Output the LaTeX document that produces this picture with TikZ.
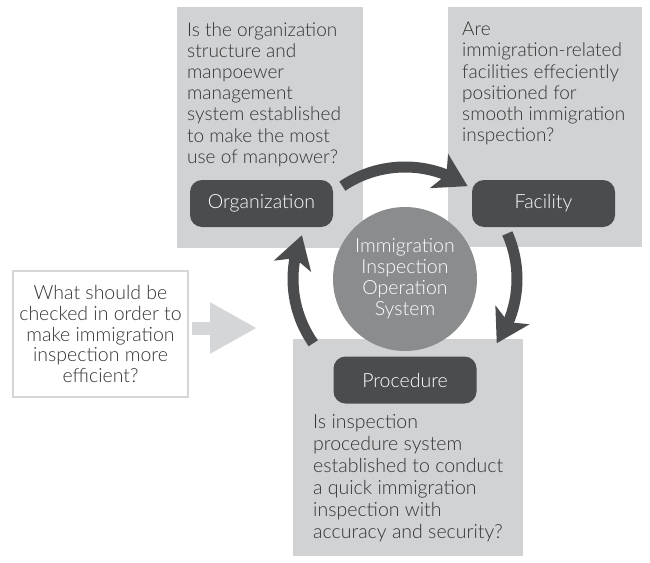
\documentclass[tikz,border=0pt]{standalone}
\usepackage{fontspec}
\setmainfont{Lato}[UprightFont=* Light]
\usetikzlibrary{arrows.meta,bending,positioning}
\definecolor{panelgray}{HTML}{D1D2D4}
\definecolor{darkbox}{HTML}{4B4C4E}
\definecolor{hubgray}{HTML}{8B8C8E}
\definecolor{textgray}{HTML}{333333}
\definecolor{hintgray}{HTML}{D5D6D8}
\tikzset{
  panel/.style={fill=panelgray,inner sep=0pt,anchor=north west},
  topic/.style={fill=darkbox,rounded corners=12pt,text=white,minimum width=143pt,
    minimum height=47pt,font=\fontsize{19.5}{22}\selectfont},
  question/.style={text=textgray,align=left,anchor=north west,inner sep=0pt,
    font=\fontsize{19}{21.2}\selectfont},
  hub/.style={circle,fill=hubgray,text=white,minimum size=144pt,inner sep=0pt,
    align=center,font=\fontsize{19.5}{21}\selectfont},
  cycle/.style={draw=darkbox,line width=11pt,-{Stealth[length=32pt,width=38pt,inset=8pt]}},
  hintarrow/.style={draw=hintgray,line width=13pt,-{Triangle[length=47pt,width=48pt]}}
}
\begin{document}
\begin{tikzpicture}[x=1pt,y=-1pt]
  \useasboundingbox (0,0) rectangle (650,562);
  % panels
  \node[panel,minimum width=186pt,minimum height=241pt] (orgpanel) at (177,7) {};
  \node[panel,minimum width=194pt,minimum height=240pt] (facpanel) at (448,7) {};
  \node[panel,minimum width=230pt,minimum height=217pt] (procpanel) at (293,339) {};
  \node[question] (orgq) at (187,22) {Is the organization\\structure and\\manpoewer\\management\\system established\\to make the most\\use of manpower?};
  \node[question] (facq) at (462,22) {Are\\immigration-related\\facilities effeciently\\positioned for\\smooth immigration\\inspection?};
  \node[question,font=\fontsize{19.5}{22}\selectfont] (procq) at (313,414) {Is inspection\\procedure system\\established to conduct\\a quick immigration\\inspection with\\accuracy and security?};
  % entry question
  \node[draw=hintgray,line width=2.5pt,fill=white,minimum width=175pt,minimum height=126pt,
    align=center,text=textgray,font=\fontsize{19.5}{20.8}\selectfont] (quest) at (100.5,334)
    {What should be\\checked in order to\\make immigration\\inspection more\\efficient?};
  \coordinate (entry) at (257,328);
  \draw[hintarrow,shorten <=3pt] (quest.east |- entry) -- (entry);
  % centre and cycle
  \node[hub] (hub) at (405,279) {Immigration\\Inspection\\Operation\\System};
  \draw[cycle] (hub) ++(-124:112) arc[start angle=-124,end angle=-56,radius=112];
  \draw[cycle] (hub) ++(-24:112) arc[start angle=-24,end angle=35,radius=112];
  \draw[cycle] (hub) ++(145:112) arc[start angle=145,end angle=203,radius=112];
  \node[topic] (org) at (261.5,203.5) {Organization};
  \node[topic] (fac) at (543.5,203.5) {Facility};
  \node[topic] (proc) at (405,380) {Procedure};
\end{tikzpicture}
\end{document}
